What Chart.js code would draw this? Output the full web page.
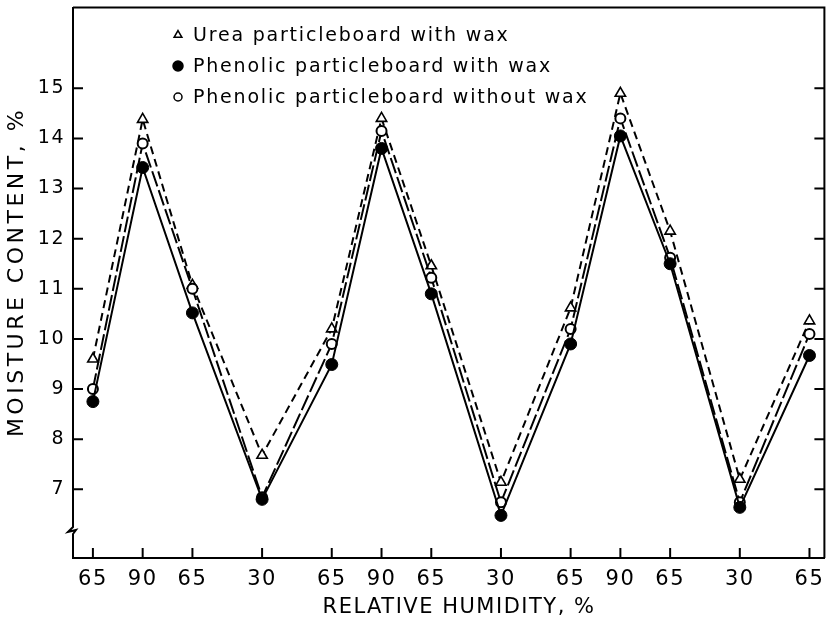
<!DOCTYPE html>
<html>
<head>
<meta charset="utf-8">
<script src="https://cdn.jsdelivr.net/npm/chart.js@4"></script>
<style>
  html, body { margin: 0; padding: 0; background: #fff; }
  #wrap { width: 832px; height: 630px; }
</style>
</head>
<body>
<div id="wrap"><canvas id="chartMoisture" width="832" height="630"></canvas></div>
<script>
// relative humidity sequence (tick labels along the x axis)
const rhLabels = [65, 90, 65, 30, 65, 90, 65, 30, 65, 90, 65, 30, 65];

// moisture content, %
const ureaWax = [9.6, 14.38, 11.07, 7.68, 10.2, 14.4, 11.46, 7.14, 10.62, 14.9, 12.15, 7.2, 10.36];
const phenolicWax = [8.75, 13.42, 10.52, 6.8, 9.49, 13.8, 10.9, 6.48, 9.9, 14.05, 11.5, 6.64, 9.67];
const phenolicNoWax = [9.0, 13.9, 11.0, 6.84, 9.9, 14.15, 11.22, 6.74, 10.2, 14.4, 11.62, 6.74, 10.1];

const yTicks = [7, 8, 9, 10, 11, 12, 13, 14, 15];

// x position follows the cumulative change in humidity
const xPos = [];
rhLabels.forEach(function (rh, i) {
  xPos.push(i === 0 ? 0 : xPos[i - 1] + Math.abs(rh - rhLabels[i - 1]));
});

function toPoints(values) {
  return values.map(function (v, i) { return { x: xPos[i], y: v }; });
}

const FONT = "'DejaVu Sans', sans-serif";

// slightly wide lettering like the original typesetting
const spacingPlugin = {
  id: "spacing",
  beforeDraw(chart) {
    chart.ctx.letterSpacing = "1.5px";
  }
};

// frame, inward ticks, axis break, axis titles and legend
const framePlugin = {
  id: "frame",
  afterDraw(chart) {
    const ctx = chart.ctx;
    const a = chart.chartArea;
    const xs = chart.scales.x;
    const ys = chart.scales.y;
    ctx.save();
    ctx.strokeStyle = "#000";
    ctx.lineWidth = 2;
    ctx.beginPath();
    ctx.moveTo(a.left, a.top);
    ctx.lineTo(a.right, a.top);
    ctx.lineTo(a.right, a.bottom);
    ctx.stroke();

    yTicks.forEach(function (t) {
      const y = ys.getPixelForValue(t);
      ctx.beginPath();
      ctx.moveTo(a.left, y);
      ctx.lineTo(a.left + 10, y);
      ctx.moveTo(a.right, y);
      ctx.lineTo(a.right - 10, y);
      ctx.stroke();
    });
    xPos.forEach(function (p) {
      const x = xs.getPixelForValue(p);
      ctx.beginPath();
      ctx.moveTo(x, a.bottom);
      ctx.lineTo(x, a.bottom - 10);
      ctx.stroke();
    });

    // axis break
    const by = 530;
    ctx.fillStyle = "#fff";
    ctx.fillRect(a.left - 3, by - 5, 6, 10);
    ctx.beginPath();
    ctx.moveTo(a.left, by - 7);
    ctx.lineTo(a.left, by - 3);
    ctx.lineTo(a.left - 5, by + 2);
    ctx.lineTo(a.left + 3, by);
    ctx.lineTo(a.left, by + 4);
    ctx.lineTo(a.left, by + 8);
    ctx.stroke();

    // axis titles
    ctx.fillStyle = "#000";
    ctx.textAlign = "center";
    ctx.textBaseline = "middle";
    ctx.font = "21px " + FONT;
    ctx.letterSpacing = "1.5px";
    ctx.fillText("RELATIVE HUMIDITY, %", 459, 608);
    ctx.save();
    ctx.translate(17, 272);
    ctx.rotate(-Math.PI / 2);
    ctx.font = "22px " + FONT;
    ctx.letterSpacing = "3.5px";
    ctx.fillText("MOISTURE CONTENT, %", 0, 0);
    ctx.restore();

    // legend
    ctx.font = "19px " + FONT;
    ctx.letterSpacing = "1.8px";
    ctx.textAlign = "left";
    chart.data.datasets.forEach(function (ds, i) {
      const y = 35 + 31 * i;
      ctx.lineWidth = 1.5;
      ctx.strokeStyle = "#000";
      ctx.fillStyle = ds.pointBackgroundColor;
      Chart.helpers.drawPoint(ctx, {
        pointStyle: ds.pointStyle,
        radius: ds.legendRadius,
        rotation: 0,
        borderWidth: 1.5
      }, 178, y);
      ctx.fillStyle = "#000";
      ctx.fillText(ds.label, 193, y + 1);
    });
    ctx.restore();
  }
};

const ctxMoisture = document.getElementById("chartMoisture");
new Chart(ctxMoisture, {
  type: "line",
  data: {
    datasets: [
      {
        label: "Urea particleboard with wax",
        data: toPoints(ureaWax),
        borderColor: "#000",
        borderWidth: 2,
        borderDash: [8, 5],
        pointStyle: "triangle",
        pointRadius: 6,
        pointBorderWidth: 1.6,
        pointBackgroundColor: "#fff",
        pointBorderColor: "#000",
        legendRadius: 4.5,
        tension: 0,
        order: 3
      },
      {
        label: "Phenolic particleboard with wax",
        data: toPoints(phenolicWax),
        borderColor: "#000",
        borderWidth: 2,
        pointStyle: "circle",
        pointRadius: 6,
        pointBorderWidth: 1,
        pointBackgroundColor: "#000",
        pointBorderColor: "#000",
        legendRadius: 5,
        tension: 0,
        order: 1
      },
      {
        label: "Phenolic particleboard without wax",
        data: toPoints(phenolicNoWax),
        borderColor: "#000",
        borderWidth: 2,
        borderDash: [16, 4],
        pointStyle: "circle",
        pointRadius: 5,
        pointBorderWidth: 2,
        pointBackgroundColor: "#fff",
        pointBorderColor: "#000",
        legendRadius: 4,
        tension: 0,
        order: 2
      }
    ]
  },
  options: {
    responsive: false,
    animation: false,
    layout: { padding: { top: 6, right: 2, left: 0, bottom: 0 } },
    plugins: {
      legend: { display: false },
      tooltip: { enabled: false }
    },
    scales: {
      x: {
        type: "linear",
        min: -10,
        max: 367.5,
        afterBuildTicks(scale) {
          scale.ticks = xPos.map(function (v) { return { value: v }; });
        },
        afterFit(scale) {
          scale.height = 72;
          scale.paddingLeft = 0;
          scale.paddingRight = 0;
        },
        grid: { display: false, drawTicks: false },
        border: { display: true, color: "#000", width: 2 },
        ticks: {
          color: "#000",
          font: { family: FONT, size: 21 },
          padding: 9,
          maxRotation: 0,
          autoSkip: false,
          callback: function (value, index) { return rhLabels[index]; }
        }
      },
      y: {
        min: 5.63,
        max: 16.61,
        afterBuildTicks(scale) {
          scale.ticks = yTicks.map(function (v) { return { value: v }; });
        },
        afterFit(scale) {
          scale.width = 73;
          scale.paddingTop = 0;
          scale.paddingBottom = 0;
        },
        grid: { display: false, drawTicks: false },
        border: { display: true, color: "#000", width: 2 },
        ticks: {
          color: "#000",
          font: { family: FONT, size: 19 },
          padding: 8
        }
      }
    }
  },
  plugins: [spacingPlugin, framePlugin]
});
</script>
</body>
</html>
